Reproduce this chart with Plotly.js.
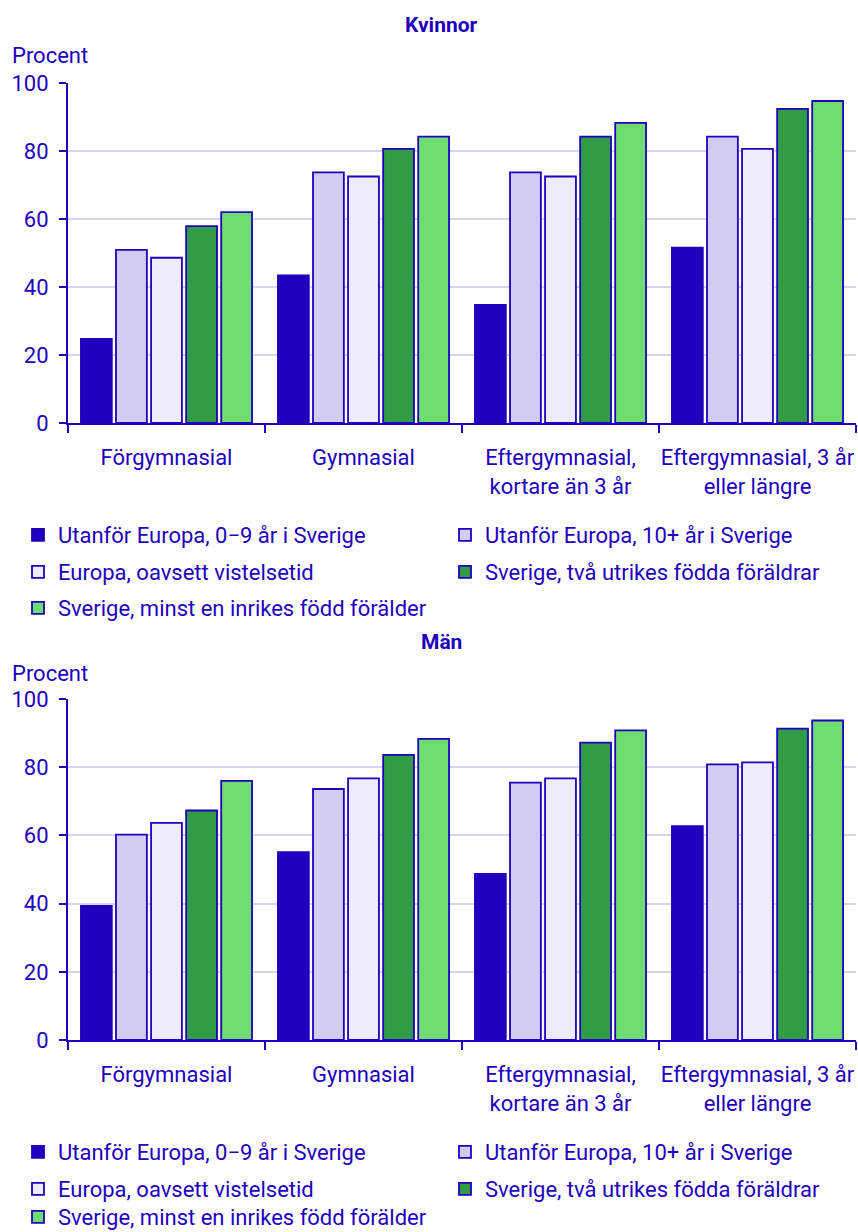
<!DOCTYPE html>
<html><head><meta charset="utf-8">
<script src="https://cdn.plot.ly/plotly-3.0.1.min.js"></script>
<style>html,body{margin:0;padding:0;background:#fff}</style>
</head><body><div id="chart" style="width:858px;height:1232px"></div>
<script>
const categories = ['Förgymnasial', 'Gymnasial', 'Eftergymnasial,<br>kortare än 3 år', 'Eftergymnasial, 3 år<br>eller längre'];
const seriesNames = ['Utanför Europa, 0−9 år i Sverige', 'Utanför Europa, 10+ år i Sverige', 'Europa, oavsett vistelsetid', 'Sverige, två utrikes födda föräldrar', 'Sverige, minst en inrikes född förälder'];
const seriesColors = ['#1e00be', '#d2cdf0', '#eeecfc', '#329b46', '#6edc6e'];

// Kvinnor (procent)
const kvinnorUtanforEuropa0_9 = [24.7, 43.4, 34.7, 51.6];
const kvinnorUtanforEuropa10 = [50.9, 73.7, 73.7, 84.2];
const kvinnorEuropa = [48.6, 72.5, 72.5, 80.6];
const kvinnorSverigeTvaUtrikes = [57.9, 80.6, 84.2, 92.4];
const kvinnorSverigeMinstEnInrikes = [62.0, 84.2, 88.3, 94.7];

// Män (procent)
const manUtanforEuropa0_9 = [39.3, 55.1, 48.7, 62.7];
const manUtanforEuropa10 = [60.2, 73.6, 75.5, 80.8];
const manEuropa = [63.7, 76.7, 76.7, 81.4];
const manSverigeTvaUtrikes = [67.3, 83.6, 87.2, 91.3];
const manSverigeMinstEnInrikes = [76.0, 88.3, 90.8, 93.7];

const yTickVals = [0, 20, 40, 60, 80, 100];

const kvinnorSeries = [kvinnorUtanforEuropa0_9, kvinnorUtanforEuropa10, kvinnorEuropa, kvinnorSverigeTvaUtrikes, kvinnorSverigeMinstEnInrikes];
const manSeries = [manUtanforEuropa0_9, manUtanforEuropa10, manEuropa, manSverigeTvaUtrikes, manSverigeMinstEnInrikes];

const C = '#1e00be';
const W = 858, H = 1232, PW = 856;
const FS = 22;

function py(p) { return 1 - p / H; }
function px(p) { return p / PW; }

// legend slot per series: [column x origin, row centre y] for top and bottom panels
const colX = [18, 445, 18, 445, 18];
const topRowY = [535, 535, 572, 572, 608];
const botRowY = [1152, 1152, 1189, 1189, 1217];

const traces = [];
const legends = {};
function legendAt(x, y) {
  return {orientation: 'h', x: px(x), xanchor: 'left', y: py(y), yanchor: 'middle', xref: 'paper', yref: 'paper',
    bgcolor: 'rgba(0,0,0,0)', borderwidth: 0,
    font: {size: FS, color: C, family: 'Roboto, sans-serif'}, itemclick: false, itemdoubleclick: false};
}
function legendKey(n) { return n === 1 ? 'legend' : 'legend' + n; }

kvinnorSeries.forEach((vals, i) => {
  const k = legendKey(i + 1);
  legends[k] = legendAt(colX[i], topRowY[i]);
  traces.push({type: 'bar', name: seriesNames[i], x: categories, y: vals, xaxis: 'x', yaxis: 'y',
    legend: k, marker: {color: seriesColors[i], line: {color: C, width: 1.8}}, hoverinfo: 'y+name'});
});
manSeries.forEach((vals, i) => {
  const k = legendKey(i + 6);
  legends[k] = legendAt(colX[i], botRowY[i]);
  traces.push({type: 'bar', name: seriesNames[i], x: categories, y: vals, xaxis: 'x2', yaxis: 'y2',
    legend: k, marker: {color: seriesColors[i], line: {color: C, width: 1.8}}, hoverinfo: 'y+name'});
});

function xAxis(anchor) {
  return {anchor: anchor, domain: [px(68), 1], type: 'category', showline: true, linecolor: C, linewidth: 2,
    ticks: 'outside', tickson: 'boundaries', ticklen: 8, tickwidth: 2, tickcolor: C, showgrid: false,
    tickangle: 0, automargin: false,
    zeroline: false, ticklabelstandoff: 14, tickfont: {size: FS, color: C}, fixedrange: true};
}
function yAxis(anchor, top, bottom) {
  return {anchor: anchor, domain: [py(bottom), py(top)], range: [0, 100], tickvals: yTickVals,
    showline: true, linecolor: C, linewidth: 2, ticks: 'outside', ticklen: 7, tickwidth: 2, tickcolor: C,
    showgrid: true, gridcolor: '#d4d4f2', gridwidth: 1.6, zeroline: false, ticklabelstandoff: 6,
    automargin: false, tickfont: {size: FS, color: C}, fixedrange: true};
}

const layout = Object.assign({
  width: W, height: H, margin: {l: 0, r: 2, t: 0, b: 0, autoexpand: false},
  paper_bgcolor: '#ffffff', plot_bgcolor: '#ffffff',
  font: {family: 'Roboto, sans-serif', size: FS, color: C},
  barmode: 'group', bargap: 0.11, bargroupgap: 0.12, showlegend: true,
  xaxis: xAxis('y'), yaxis: yAxis('x', 83, 423),
  xaxis2: xAxis('y2'), yaxis2: yAxis('x2', 699, 1040),
  annotations: [
    {text: '<b>Kvinnor</b>', xref: 'paper', yref: 'paper', x: px(441), y: py(25), xanchor: 'center', yanchor: 'middle', showarrow: false, font: {size: 21, color: C}},
    {text: '<b>Män</b>', xref: 'paper', yref: 'paper', x: px(441), y: py(642), xanchor: 'center', yanchor: 'middle', showarrow: false, font: {size: 21, color: C}},
    {text: 'Procent', xref: 'paper', yref: 'paper', x: px(10), y: py(56), xanchor: 'left', yanchor: 'middle', showarrow: false, font: {size: FS, color: C}},
    {text: 'Procent', xref: 'paper', yref: 'paper', x: px(10), y: py(673), xanchor: 'left', yanchor: 'middle', showarrow: false, font: {size: FS, color: C}}
  ]
}, legends);

Plotly.newPlot('chart', traces, layout, {displayModeBar: false});
</script>
</body></html>
